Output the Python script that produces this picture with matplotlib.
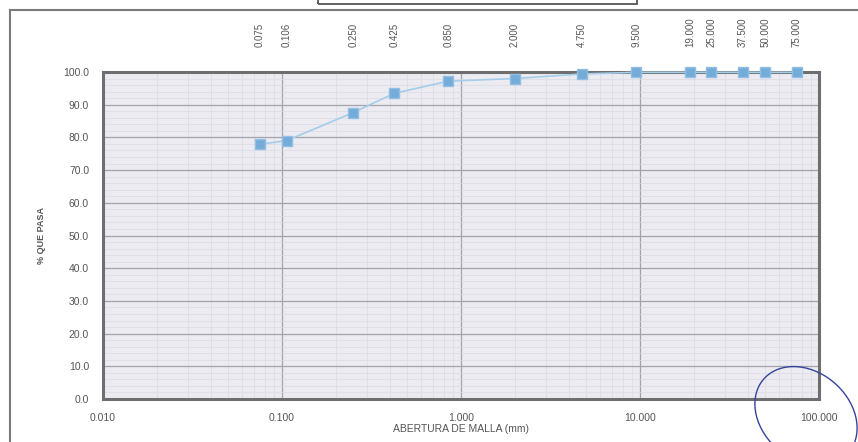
import matplotlib.pyplot as plt
import matplotlib.ticker as mticker
from matplotlib.patches import Rectangle, Ellipse

# sieve openings (mm) and percent passing
sieves = [0.075, 0.106, 0.250, 0.425, 0.850, 2.000, 4.750, 9.500,
          19.000, 25.000, 37.500, 50.000, 75.000]
passing = [77.9, 79.0, 87.6, 93.5, 97.2, 98.0, 99.4, 99.9,
           99.9, 99.9, 99.9, 99.9, 99.9]
x_ticks = [0.01, 0.1, 1.0, 10.0, 100.0]
y_ticks = list(range(0, 101, 10))

plt.rcParams['font.family'] = ['Liberation Sans', 'DejaVu Sans']
fig = plt.figure(figsize=(8.58, 4.42), dpi=100)
W, H = 858, 442

def fx(px):
    return px / W

def fy(py):
    return 1 - py / H

ax = fig.add_axes([fx(103), fy(399), fx(819) - fx(103), fy(72) - fy(399)])
ax.set_facecolor('#ecebf1')
ax.set_xscale('log')
ax.set_xlim(0.01, 100)
ax.set_ylim(0, 100)

ax.plot(sieves, passing, color='#a4cdea', lw=1.2, marker='s', ms=6.5,
        mfc='#74acd9', mec='#92bee2', zorder=3, clip_on=False)

ax.xaxis.set_major_locator(mticker.FixedLocator(x_ticks))
ax.xaxis.set_major_formatter(mticker.FuncFormatter(lambda v, p: f'{v:.3f}'))
ax.xaxis.set_minor_locator(mticker.LogLocator(subs=range(2, 10)))
ax.xaxis.set_minor_formatter(mticker.NullFormatter())
ax.set_yticks(y_ticks)
ax.yaxis.set_major_formatter(mticker.FuncFormatter(lambda v, p: f'{v:.1f}'))
ax.yaxis.set_minor_locator(mticker.MultipleLocator(2))

ax.grid(which='major', color='#a3a3ab', lw=0.9)
ax.grid(which='minor', color='#dcdbe4', lw=0.5)
ax.set_axisbelow(True)
ax.tick_params(which='both', length=0)
ax.tick_params(axis='x', pad=10, labelsize=7.5, labelcolor='#555555')
ax.tick_params(axis='y', pad=10, labelsize=7.5, labelcolor='#555555')
for s in ax.spines.values():
    s.set_color('#6e6e6e')
    s.set_linewidth(2.2)

ax.set_xlabel('ABERTURA DE MALLA (mm)', fontsize=7.5, color='#555555', labelpad=1)
ax.set_ylabel('% QUE PASA', fontsize=6.5, fontweight='bold', color='#555555',
              labelpad=12)

# sieve labels along the top
top = ax.secondary_xaxis('top')
top.xaxis.set_major_locator(mticker.FixedLocator(sieves))
top.xaxis.set_major_formatter(mticker.FuncFormatter(lambda v, p: f'{v:.3f}'))
top.xaxis.set_minor_locator(mticker.NullLocator())
top.tick_params(length=0, pad=18, labelsize=7, labelcolor='#555555',
                labelrotation=90)
top.spines['top'].set_visible(False)

# outer chart frame and title box
fig.add_artist(plt.Line2D([fx(10), fx(10)], [fy(10), 0], color='#7a7a7a', lw=1.5))
fig.add_artist(plt.Line2D([fx(10), 1], [fy(10), fy(10)], color='#7a7a7a', lw=1.5))
fig.add_artist(Rectangle((fx(318), fy(4)), fx(637) - fx(318), 0.05,
                         fill=False, ec='#555555', lw=1.3, transform=fig.transFigure))

# hand-drawn circle near 100.000
fig.add_artist(Ellipse((fx(806), fy(416)), fx(98), 100 / H, fill=False,
                       ec='#34449a', lw=1.0, angle=10, transform=fig.transFigure))

fig.savefig('out.png', dpi=100, facecolor='white')
